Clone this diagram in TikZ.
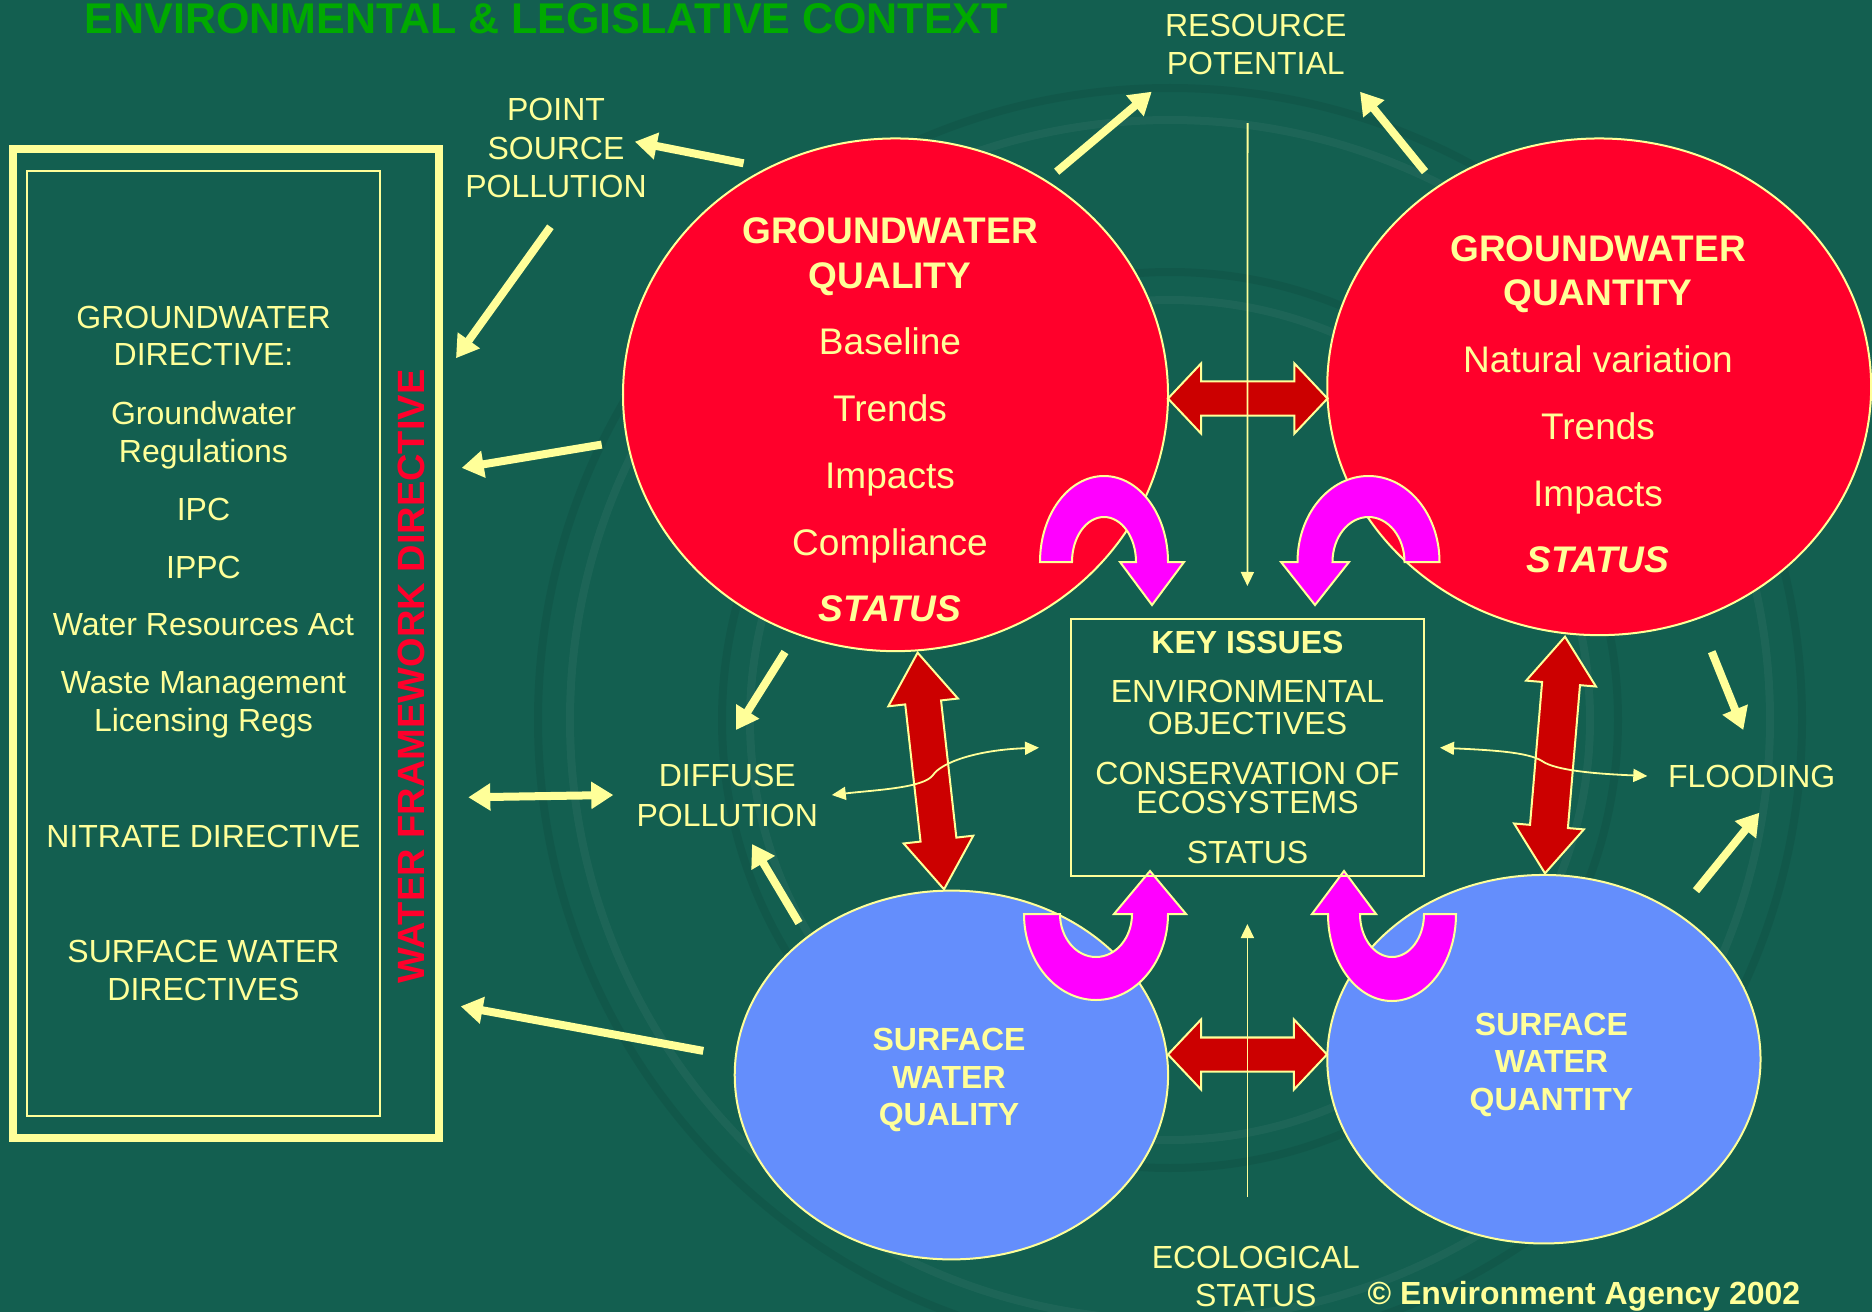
\documentclass[tikz,border=0pt]{standalone}
\usepackage{fontspec}
\setmainfont{Liberation Sans}
\usetikzlibrary{calc,arrows.meta,shapes.geometric}

\definecolor{bggreen}{RGB}{19,95,80}
\definecolor{paleyellow}{RGB}{255,255,153}
\definecolor{gwred}{RGB}{255,0,43}
\definecolor{swblue}{RGB}{100,142,252}
\definecolor{linkred}{RGB}{204,0,0}
\definecolor{uturn}{RGB}{255,0,255}
\definecolor{titlegreen}{RGB}{0,170,0}

% double-headed block arrow: #1 prefix, #2 and #3 tips, #4 shaft half width,
% #5 head half width, #6 head length
\newcommand{\blockdouble}[6]{%
  \coordinate (#1-ha) at ($(#2)!#6!(#3)$);
  \coordinate (#1-hb) at ($(#3)!#6!(#2)$);
  \draw[linkarrow] (#2) -- ($(#1-ha)!#5!90:(#3)$) -- ($(#1-ha)!#4!90:(#3)$)
    -- ($(#1-hb)!#4!-90:(#2)$) -- ($(#1-hb)!#5!-90:(#2)$) -- (#3)
    -- ($(#1-hb)!#5!90:(#2)$) -- ($(#1-hb)!#4!90:(#2)$)
    -- ($(#1-ha)!#4!-90:(#3)$) -- ($(#1-ha)!#5!-90:(#3)$) -- cycle;
}

\tikzset{
  lbl/.style={text=paleyellow, inner sep=0pt, anchor=base},
  f32/.style={font=\fontsize{9.1pt}{10pt}\selectfont},
  f32b/.style={font=\fontsize{9.1pt}{10pt}\selectfont\bfseries},
  f37/.style={font=\fontsize{10.53pt}{12pt}\selectfont},
  f37b/.style={font=\fontsize{10.53pt}{12pt}\selectfont\bfseries},
  f37bi/.style={font=\fontsize{10.53pt}{12pt}\selectfont\bfseries\itshape},
  gwbubble/.style={ellipse, draw=paleyellow, fill=gwred, line width=0.02cm, inner sep=0pt},
  swbubble/.style={ellipse, draw=paleyellow, fill=swblue, line width=0.02cm, inner sep=0pt},
  linkarrow/.style={draw=paleyellow, fill=linkred, line width=0.02cm, line join=miter},
  uturnarrow/.style={draw=paleyellow, fill=uturn, line width=0.02cm, line join=miter},
  fatarrow/.style={draw=paleyellow, line width=0.08cm, -{Triangle[length=0.22cm,width=0.26cm]}},
  fatdouble/.style={draw=paleyellow, line width=0.08cm, {Triangle[length=0.22cm,width=0.26cm]}-{Triangle[length=0.22cm,width=0.26cm]}},
  thinarrow/.style={draw=paleyellow, line width=0.018cm, -{Triangle[length=0.14cm,width=0.13cm]}},
  thindouble/.style={draw=paleyellow, line width=0.018cm, {Triangle[length=0.14cm,width=0.13cm]}-{Triangle[length=0.14cm,width=0.13cm]}},
  ripplelight/.style={white, opacity=0.045, line width=0.08cm},
  rippledark/.style={black, opacity=0.07, line width=0.08cm},
}

\begin{document}
\begin{tikzpicture}[x=0.01cm, y=-0.01cm]
% canvas
\fill[bggreen] (0,0) rectangle (1872,1312);
\useasboundingbox (0,0) rectangle (1872,1312);

% faint ripples in the backdrop
\draw[ripplelight] (1170,720) circle[radius=600];
\draw[rippledark] (1170,720) circle[radius=632];
\draw[ripplelight] (1170,720) circle[radius=420];
\draw[rippledark] (1170,720) circle[radius=448];

% heading
\node[anchor=base west, inner sep=0pt, text=titlegreen,
      font=\fontsize{12.23pt}{13pt}\selectfont\bfseries] (title) at (84,33)
  {ENVIRONMENTAL \& LEGISLATIVE CONTEXT};

% legislation panel
\node[draw=paleyellow, line width=0.08cm, minimum width=4.26cm, minimum height=9.885cm,
      inner sep=0pt] (wfdframe) at (226,643.75) {};
\node[draw=paleyellow, line width=0.02cm, minimum width=3.527cm, minimum height=9.447cm,
      inner sep=0pt] (lawbox) at (203.65,643.65) {};
\node[lbl, f32] (gd1) at (203.5,328) {GROUNDWATER};
\node[lbl, f32] (gd2) at (203.5,365.5) {DIRECTIVE:};
\node[lbl, f32] (gr1) at (203.5,424) {Groundwater};
\node[lbl, f32] (gr2) at (203.5,462) {Regulations};
\node[lbl, f32] (ipc) at (203.5,520) {IPC};
\node[lbl, f32] (ippc) at (203.5,578.5) {IPPC};
\node[lbl, f32] (wra) at (203.5,635.5) {Water Resources Act};
\node[lbl, f32] (wm1) at (203.5,693.5) {Waste Management};
\node[lbl, f32] (wm2) at (203.5,731) {Licensing Regs};
\node[lbl, f32] (nitrate) at (203.5,847) {NITRATE DIRECTIVE};
\node[lbl, f32] (sd1) at (203.5,962.5) {SURFACE WATER};
\node[lbl, f32] (sd2) at (203.5,1000.5) {DIRECTIVES};
\node[inner sep=0pt, anchor=base, rotate=90, text=gwred,
      font=\fontsize{10.81pt}{12pt}\selectfont\bfseries] (wfdlabel) at (424,676.5)
  {WATER FRAMEWORK DIRECTIVE};

% the four water bodies
\node[gwbubble, minimum width=5.447cm, minimum height=5.124cm] (gwqual) at (895.5,394.8) {};
\node[gwbubble, minimum width=5.436cm, minimum height=4.964cm] (gwquant) at (1599.2,386.8) {};
\node[swbubble, minimum width=4.331cm, minimum height=3.686cm] (swqual) at (951.4,1075) {};
\node[swbubble, minimum width=4.330cm, minimum height=3.683cm] (swquant) at (1543.9,1059.2) {};

% links between the water bodies
\coordinate (ltop-a) at (1168,398.5);
\coordinate (ltop-b) at (1327.5,398.5);
\coordinate (lbot-a) at (1168,1054.5);
\coordinate (lbot-b) at (1327,1054.5);
\coordinate (lleft-a) at (917.6,652.7);
\coordinate (lleft-b) at (944,889.3);
\coordinate (lright-a) at (1565,636.7);
\coordinate (lright-b) at (1545,873.3);
\blockdouble{ltop}{ltop-a}{ltop-b}{0.17cm}{0.35cm}{0.33cm}
\blockdouble{lbot}{lbot-a}{lbot-b}{0.17cm}{0.35cm}{0.33cm}
\blockdouble{lleft}{lleft-a}{lleft-b}{0.18cm}{0.35cm}{0.50cm}
\blockdouble{lright}{lright-a}{lright-b}{0.19cm}{0.35cm}{0.47cm}

% U-turn arrows into and out of the key issues
\draw[uturnarrow] (1040,562) arc[start angle=180, end angle=360, x radius=64, y radius=86]
  -- (1184,562) -- (1152,605) -- (1120,562) -- (1136,562)
  arc[start angle=0, end angle=-180, x radius=32, y radius=45] -- cycle;
\draw[uturnarrow] (1439.5,562) arc[start angle=0, end angle=-180, x radius=71, y radius=86]
  -- (1281,562) -- (1315,605) -- (1349,562) -- (1332.5,562)
  arc[start angle=180, end angle=360, x radius=36, y radius=45] -- cycle;
\draw[uturnarrow] (1024,914) arc[start angle=180, end angle=0, x radius=72, y radius=86]
  -- (1186,914) -- (1150,871) -- (1114,914) -- (1132,914)
  arc[start angle=0, end angle=180, x radius=36, y radius=43] -- cycle;
\draw[uturnarrow] (1456,914) arc[start angle=0, end angle=180, x radius=64, y radius=87]
  -- (1312,914) -- (1344,871) -- (1376,914) -- (1360,914)
  arc[start angle=180, end angle=0, x radius=32, y radius=43] -- cycle;

% key issues
\node[draw=paleyellow, line width=0.02cm, minimum width=3.533cm, minimum height=2.567cm,
      inner sep=0pt] (keybox) at (1247.65,747.35) {};
\node[lbl, f32b] (key0) at (1247.5,653.3) {KEY ISSUES};
\node[lbl, f32] (key1) at (1247.5,702.7) {ENVIRONMENTAL};
\node[lbl, f32] (key2) at (1247.5,734) {OBJECTIVES};
\node[lbl, f32] (key3) at (1247.5,784) {CONSERVATION OF};
\node[lbl, f32] (key4) at (1247.5,813.3) {ECOSYSTEMS};
\node[lbl, f32] (key5) at (1247.5,863.3) {STATUS};

% side themes
\node[lbl, f32] (rp1) at (1255.8,36) {RESOURCE};
\node[lbl, f32] (rp2) at (1255.8,74) {POTENTIAL};
\node[lbl, f32] (ps1) at (556,120.7) {POINT};
\node[lbl, f32] (ps2) at (556,159.5) {SOURCE};
\node[lbl, f32] (ps3) at (556,197.5) {POLLUTION};
\node[lbl, f32] (dp1) at (727.3,786.7) {DIFFUSE};
\node[lbl, f32] (dp2) at (727.3,826.7) {POLLUTION};
\node[lbl, f32] (flood) at (1751.7,787.3) {FLOODING};
\node[lbl, f32] (eco1) at (1255.8,1268) {ECOLOGICAL};
\node[lbl, f32] (eco2) at (1255.8,1306) {STATUS};

% thin guide arrows
\coordinate (rpline-s) at (1247.6,123);
\coordinate (rpline-e) at (1247.4,586);
\coordinate (ecoline-s) at (1247.4,1197);
\coordinate (ecoline-e) at (1247.4,924);
\draw[thinarrow] (rpline-s) -- (rpline-e);
\draw[thinarrow] (ecoline-s) -- (ecoline-e);
\coordinate (dpkey-a) at (831.8,795);
\coordinate (dpkey-b) at (1039,747.7);
\coordinate (floodkey-a) at (1440,747.7);
\coordinate (floodkey-b) at (1647.3,776);
\draw[thindouble] (dpkey-a) .. controls (875,790) and (924,788) .. (933,775)
  .. controls (941,763) and (975,750) .. (dpkey-b);
\draw[thindouble] (floodkey-a) .. controls (1490,750) and (1528,752) .. (1542,761)
  .. controls (1556,771) and (1600,774) .. (floodkey-b);

% bubble contents
\node[lbl, f37b] (gq1) at (890,243.2) {GROUNDWATER};
\node[lbl, f37b] (gq2) at (890,288) {QUALITY};
\node[lbl, f37] (gq3) at (890,354.6) {Baseline};
\node[lbl, f37] (gq4) at (890,421.8) {Trends};
\node[lbl, f37] (gq5) at (890,488.6) {Impacts};
\node[lbl, f37] (gq6) at (890,555.7) {Compliance};
\node[lbl, f37bi] (gq7) at (890,621.8) {STATUS};
\node[lbl, f37b] (gn1) at (1598,261) {GROUNDWATER};
\node[lbl, f37b] (gn2) at (1598,305.7) {QUANTITY};
\node[lbl, f37] (gn3) at (1598,372.9) {Natural variation};
\node[lbl, f37] (gn4) at (1598,439.6) {Trends};
\node[lbl, f37] (gn5) at (1598,506.4) {Impacts};
\node[lbl, f37bi] (gn6) at (1598,572.9) {STATUS};
\node[lbl, f32b] (sq1) at (949,1050) {SURFACE};
\node[lbl, f32b] (sq2) at (949,1088.3) {WATER};
\node[lbl, f32b] (sq3) at (949,1125.7) {QUALITY};
\node[lbl, f32b] (sn1) at (1551.4,1035) {SURFACE};
\node[lbl, f32b] (sn2) at (1551.4,1072.7) {WATER};
\node[lbl, f32b] (sn3) at (1551.4,1110.7) {QUANTITY};

% pressures and flows
\coordinate (gq-ps) at (743.6,163.3);   \coordinate (ps-in) at (634.9,141.7);
\coordinate (ps-out) at (550.4,226.8);  \coordinate (law-ps) at (456,358.2);
\coordinate (gq-law) at (601.7,444.6);  \coordinate (law-gq) at (461.7,467.9);
\coordinate (law-dp) at (468.3,797.3);  \coordinate (dp-law) at (613.3,795);
\coordinate (sq-law) at (703.3,1050.9); \coordinate (law-sq) at (460.7,1006.3);
\coordinate (gq-dp) at (785,652);       \coordinate (dp-top) at (736,730);
\coordinate (sq-dp) at (799,923);       \coordinate (dp-bot) at (752,844);
\coordinate (gq-rp) at (1056.7,171.7);  \coordinate (rp-left) at (1151.7,91.7);
\coordinate (gn-rp) at (1425,171.7);    \coordinate (rp-right) at (1360,91.7);
\coordinate (gn-fl) at (1711.7,651.7);  \coordinate (fl-top) at (1743.3,730);
\coordinate (sn-fl) at (1696,890.7);    \coordinate (fl-bot) at (1759.3,812.7);
\draw[fatarrow] (gq-ps) -- (ps-in);
\draw[fatarrow] (ps-out) -- (law-ps);
\draw[fatarrow] (gq-law) -- (law-gq);
\draw[fatdouble] (law-dp) -- (dp-law);
\draw[fatarrow] (sq-law) -- (law-sq);
\draw[fatarrow] (gq-dp) -- (dp-top);
\draw[fatarrow] (sq-dp) -- (dp-bot);
\draw[fatarrow] (gq-rp) -- (rp-left);
\draw[fatarrow] (gn-rp) -- (rp-right);
\draw[fatarrow] (gn-fl) -- (fl-top);
\draw[fatarrow] (sn-fl) -- (fl-bot);

% credit
\node[lbl, f32b] (credit) at (1584,1304) {© Environment Agency 2002};
\end{tikzpicture}
\end{document}
